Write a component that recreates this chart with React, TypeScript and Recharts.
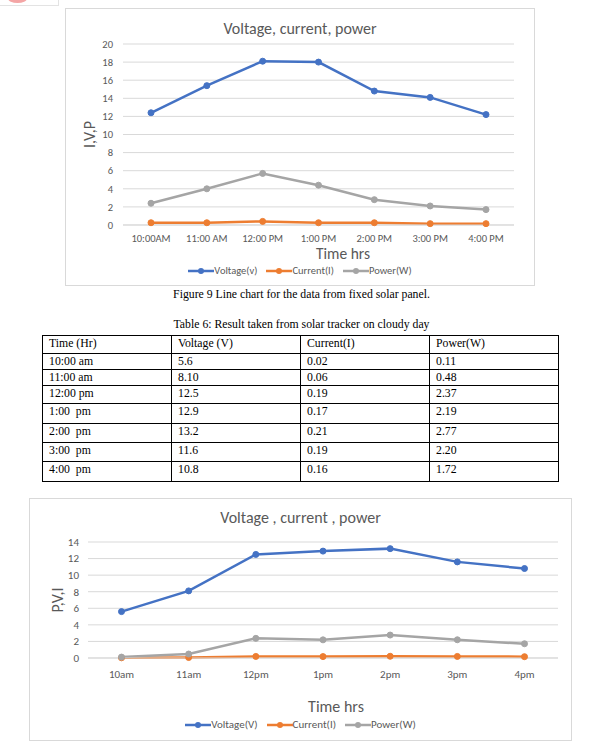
import React from "react"
import { LineChart, Line, XAxis, YAxis, CartesianGrid } from "recharts"

// fixed panel (figure 9)
const fixedHours = ["10:00AM", "11:00 AM", "12:00 PM", "1:00 PM", "2:00 PM", "3:00 PM", "4:00 PM"]
const fixedVoltage = [12.4, 15.4, 18.1, 18.0, 14.8, 14.1, 12.2]
const fixedCurrent = [0.25, 0.25, 0.4, 0.25, 0.25, 0.15, 0.15]
const fixedPower = [2.4, 4.0, 5.7, 4.4, 2.8, 2.1, 1.7]

// table 6, solar tracker on cloudy day
const tableHeader = ["Time (Hr)", "Voltage (V)", "Current(I)", "Power(W)"]
const cloudyTimes = ["10:00 am", "11:00 am", "12:00 pm", "1:00  pm", "2:00  pm", "3:00  pm", "4:00  pm"]
const cloudyVoltage = ["5.6", "8.10", "12.5", "12.9", "13.2", "11.6", "10.8"]
const cloudyCurrent = ["0.02", "0.06", "0.19", "0.17", "0.21", "0.19", "0.16"]
const cloudyPower = ["0.11", "0.48", "2.37", "2.19", "2.77", "2.20", "1.72"]
const cloudyHours = ["10am", "11am", "12pm", "1pm", "2pm", "3pm", "4pm"]

const fixedTicks = [0, 2, 4, 6, 8, 10, 12, 14, 16, 18, 20]
const cloudyTicks = [0, 2, 4, 6, 8, 10, 12, 14]

const BLUE = "#4472C4"
const ORANGE = "#ED7D31"
const GRAY = "#A5A5A5"
const TXT = "#595959"
const FONT = "Carlito, Calibri, Lato, sans-serif"
const SERIF = "'Liberation Serif', 'Times New Roman', serif"

const fixedData = fixedHours.map((h, i) => ({
  hour: h,
  voltage: fixedVoltage[i],
  current: fixedCurrent[i],
  power: fixedPower[i],
}))

const cloudyData = cloudyHours.map((h, i) => ({
  hour: h,
  voltage: parseFloat(cloudyVoltage[i]),
  current: parseFloat(cloudyCurrent[i]),
  power: parseFloat(cloudyPower[i]),
}))

const rowHeights = [18, 16, 16, 18, 20, 19, 19, 20]

function Legend({ labels, top, size }: { labels: string[]; top: number; size: number }) {
  const colors = [BLUE, ORANGE, GRAY]
  return (
    <div
      style={{
        position: "absolute",
        left: 0,
        right: 0,
        top,
        display: "flex",
        justifyContent: "center",
        gap: 9,
        fontFamily: FONT,
        fontSize: size,
        color: TXT,
        lineHeight: "12px",
      }}
    >
      {labels.map((l, i) => (
        <div key={l} style={{ display: "flex", alignItems: "center" }}>
          <svg width={26} height={8}>
            <line x1={0} y1={4} x2={26} y2={4} stroke={colors[i]} strokeWidth={2.5} />
            <circle cx={13} cy={4} r={3} fill={colors[i]} />
          </svg>
          <span>{l}</span>
        </div>
      ))}
    </div>
  )
}

function series() {
  const dot = (c: string) => ({ r: 3, fill: c, stroke: c, strokeWidth: 1 })
  return [
    <Line key="v" dataKey="voltage" stroke={BLUE} strokeWidth={2.5} dot={dot(BLUE)} isAnimationActive={false} />,
    <Line key="c" dataKey="current" stroke={ORANGE} strokeWidth={2.5} dot={dot(ORANGE)} isAnimationActive={false} />,
    <Line key="p" dataKey="power" stroke={GRAY} strokeWidth={2.5} dot={dot(GRAY)} isAnimationActive={false} />,
  ]
}

export default function App() {
  const tick1 = { fill: TXT, fontSize: 10.5, fontFamily: FONT }
  const tick2 = { fill: TXT, fontSize: 11, fontFamily: FONT }
  return (
    <div style={{ position: "absolute", left: 0, top: 0, width: 603, height: 746, background: "#fff" }}>
      {/* leftover bit of the page above */}
      <div style={{ position: "absolute", left: -1, top: -10, width: 58, height: 14, border: "1px solid #e3e3e3", overflow: "hidden" }}>
        <div style={{ position: "absolute", left: 8, top: 3, width: 19, height: 9, borderRadius: "50%", background: "#f4a5a5" }} />
      </div>

      {/* figure 9 */}
      <div style={{ position: "absolute", left: 65, top: 8, width: 470, height: 278, border: "1px solid #d9d9d9", boxSizing: "border-box" }}>
        <div style={{ position: "absolute", left: 0, top: 0 }}>
          <LineChart width={470} height={278} data={fixedData} margin={{ top: 35, right: 22, bottom: 32, left: 0 }}>
            <CartesianGrid vertical={false} stroke="#d9d9d9" />
            <XAxis
              dataKey="hour"
              height={30}
              padding={{ left: 28, right: 28 }}
              tickLine={false}
              axisLine={{ stroke: "#d9d9d9" }}
              tick={tick1}
              tickMargin={4}
              interval={0}
            />
            <YAxis
              width={57}
              domain={[0, 20]}
              ticks={fixedTicks}
              interval={0}
              tickLine={false}
              axisLine={false}
              tick={tick1}
              tickMargin={4}
              label={{ value: "I,V,P", angle: -90, position: "insideLeft", offset: 23, style: { textAnchor: "middle", fill: TXT, fontSize: 16, fontFamily: FONT } }}
            />
            {series()}
          </LineChart>
        </div>
        <div style={{ position: "absolute", left: 0, right: 0, top: 10, textAlign: "center", fontFamily: FONT, fontSize: 16, color: TXT }}>
          Voltage, current, power
        </div>
        <div style={{ position: "absolute", left: 277, top: 239, lineHeight: "12px", transform: "translateX(-50%)", fontFamily: FONT, fontSize: 15.5, color: TXT, whiteSpace: "nowrap" }}>
          Time hrs
        </div>
        <Legend labels={["Voltage(v)", "Current(I)", "Power(W)"]} top={256} size={10.5} />
      </div>

      <div style={{ position: "absolute", left: 0, width: 603, top: 288, textAlign: "center", fontFamily: SERIF, fontSize: 11.75, color: "#000" }}>
        Figure 9 Line chart for the data from fixed solar panel.
      </div>

      <div style={{ position: "absolute", left: 0, width: 603, top: 318, textAlign: "center", fontFamily: SERIF, fontSize: 11.75, color: "#000" }}>
        Table 6: Result taken from solar tracker on cloudy day
      </div>

      <table
        style={{
          position: "absolute",
          left: 42,
          top: 335,
          width: 516,
          borderCollapse: "collapse",
          tableLayout: "fixed",
          fontFamily: SERIF,
          fontSize: 11.75,
          color: "#000",
        }}
      >
        <colgroup>
          {tableHeader.map((h) => (
            <col key={h} style={{ width: 129 }} />
          ))}
        </colgroup>
        <tbody>
          {[tableHeader, ...cloudyTimes.map((t, i) => [t, cloudyVoltage[i], cloudyCurrent[i], cloudyPower[i]])].map((row, r) => (
            <tr key={r} style={{ height: rowHeights[r] }}>
              {row.map((cell, c) => (
                <td
                  key={c}
                  style={{
                    border: "1px solid #000",
                    padding: "1px 6px 0",
                    verticalAlign: "top",
                    lineHeight: "13px",
                    whiteSpace: "pre",
                    overflow: "hidden",
                  }}
                >
                  {cell}
                </td>
              ))}
            </tr>
          ))}
        </tbody>
      </table>

      {/* cloudy day chart */}
      <div style={{ position: "absolute", left: 29, top: 498, width: 543, height: 243, border: "1px solid #d9d9d9", boxSizing: "border-box" }}>
        <div style={{ position: "absolute", left: 0, top: 0 }}>
          <LineChart width={543} height={243} data={cloudyData} margin={{ top: 43, right: 15, bottom: 54, left: 0 }}>
            <CartesianGrid vertical={false} stroke="#d9d9d9" />
            <XAxis
              dataKey="hour"
              height={30}
              padding={{ left: 33.5, right: 33.5 }}
              tickLine={false}
              axisLine={{ stroke: "#d9d9d9" }}
              tick={tick2}
              tickMargin={6}
              interval={0}
            />
            <YAxis
              width={58}
              domain={[0, 14]}
              ticks={cloudyTicks}
              interval={0}
              tickLine={false}
              axisLine={false}
              tick={tick2}
              tickMargin={3}
              label={{ value: "P,V,I", angle: -90, position: "insideLeft", offset: 27, style: { textAnchor: "middle", fill: TXT, fontSize: 16, fontFamily: FONT } }}
            />
            {series()}
          </LineChart>
        </div>
        <div style={{ position: "absolute", left: 0, right: 0, top: 9, textAlign: "center", fontFamily: FONT, fontSize: 16, color: TXT }}>
          Voltage , current , power
        </div>
        <div style={{ position: "absolute", left: 306, top: 198, transform: "translateX(-50%)", fontFamily: FONT, fontSize: 16, color: TXT, whiteSpace: "nowrap" }}>
          Time hrs
        </div>
        <Legend labels={["Voltage(V)", "Current(I)", "Power(W)"]} top={220} size={11} />
      </div>
    </div>
  )
}
